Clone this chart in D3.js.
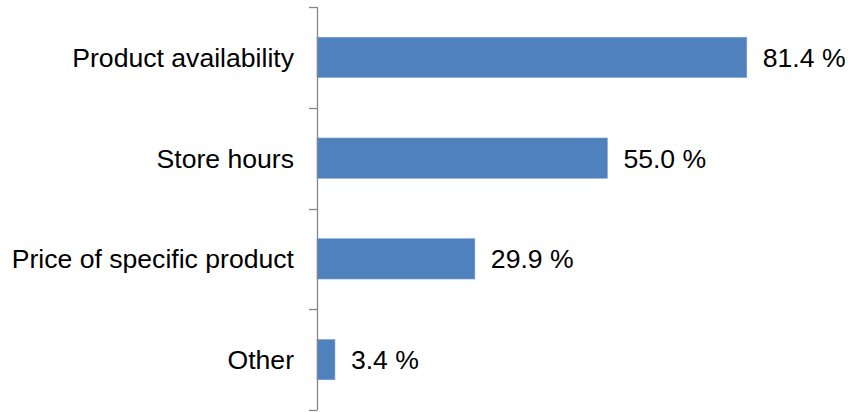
<!DOCTYPE html>
<html>
<head>
<meta charset="utf-8">
<script src="https://cdn.jsdelivr.net/npm/d3@7"></script>
<style>
html, body { margin: 0; padding: 0; background: #ffffff; }
svg { display: block; }
</style>
</head>
<body>
<svg id="chart" width="848" height="412"></svg>
<script>
const categories = ["Product availability", "Store hours", "Price of specific product", "Other"];
const values = [81.4, 55.0, 29.9, 3.4];
const valueLabels = ["81.4 %", "55.0 %", "29.9 %", "3.4 %"];

const svg = d3.select("#chart");
const x0 = 317, yTop = 7, yBottom = 410;
const x = d3.scaleLinear().domain([0, 100]).range([x0, 845]);
const y = d3.scaleBand().domain(categories).range([yTop, yBottom]).paddingInner(0.6).paddingOuter(0.3);

const font = "Arial, 'Liberation Sans', sans-serif";
const fs = 26.6;

// bars
svg.append("g").selectAll("rect").data(categories).join("rect")
  .attr("x", x(0))
  .attr("y", d => y(d))
  .attr("width", (d, i) => x(values[i]) - x(0))
  .attr("height", y.bandwidth())
  .attr("fill", "#4F81BD")
  .attr("stroke", "#7ea3d3")
  .attr("stroke-width", 0.6);

// axis line and ticks (band boundaries)
const axisColor = "#868686";
const step = (yBottom - yTop) / categories.length;
const tickYs = d3.range(categories.length + 1).map(i => yTop + i * step);
svg.append("line")
  .attr("x1", x0 + 0.5).attr("x2", x0 + 0.5)
  .attr("y1", yTop).attr("y2", yBottom)
  .attr("stroke", axisColor).attr("stroke-width", 1.3);
svg.append("g").selectAll("line").data(tickYs).join("line")
  .attr("x1", x0 - 8).attr("x2", x0 + 0.5)
  .attr("y1", d => Math.round(d) + 0.5).attr("y2", d => Math.round(d) + 0.5)
  .attr("stroke", axisColor).attr("stroke-width", 1.3);

// category labels
svg.append("g").selectAll("text").data(categories).join("text")
  .attr("x", x0 - 23)
  .attr("y", d => y(d) + y.bandwidth() / 2)
  .attr("dy", "0.36em")
  .attr("text-anchor", "end")
  .attr("font-family", font)
  .attr("font-size", fs)
  .attr("fill", "#000")
  .text(d => d);

// value labels
svg.append("g").selectAll("text").data(categories).join("text")
  .attr("x", (d, i) => x(values[i]) + 16)
  .attr("y", d => y(d) + y.bandwidth() / 2)
  .attr("dy", "0.36em")
  .attr("text-anchor", "start")
  .attr("font-family", font)
  .attr("font-size", fs)
  .attr("fill", "#000")
  .text((d, i) => valueLabels[i]);
</script>
</body>
</html>
